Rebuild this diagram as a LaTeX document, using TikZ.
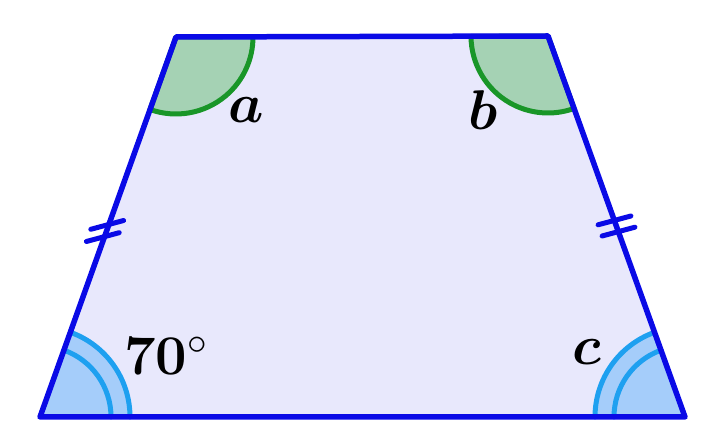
\RequirePackage{fix-cm}
\documentclass[tikz,border=0pt]{standalone}
\usepackage{amsmath}
\usepackage{color}
\definecolor{trapfill}{RGB}{232,232,252}
\definecolor{trapline}{RGB}{10,10,230}
\definecolor{greenfill}{RGB}{165,210,180}
\definecolor{greenline}{RGB}{25,150,40}
\definecolor{bluefill}{RGB}{165,205,250}
\definecolor{blueline}{RGB}{30,160,240}

\begin{document}
\begin{tikzpicture}[line cap=round,line join=round,x=1pt,y=1pt,
    lbl/.style={anchor=base,inner sep=0pt,font=\fontsize{56}{62}\selectfont},
    tick/.style={color=trapline,line width=5pt}]
    \useasboundingbox (0,0) rectangle (720,444);
    % trapezoid
    \coordinate (A) at (40,27);
    \coordinate (B) at (685,27);
    \coordinate (C) at (548,408);
    \coordinate (D) at (176,407);
    \fill[color=trapfill] (A) -- (B) -- (C) -- (D) -- cycle;
    % top angles
    \filldraw[fill=greenfill,draw=greenline,line width=5pt] (D) -- ++(250.3:77) arc (250.3:360.3:77) -- cycle;
    \filldraw[fill=greenfill,draw=greenline,line width=5pt] (C) -- ++(180.3:77) arc (180.3:289.8:77) -- cycle;
    % bottom angles
    \fill[color=bluefill] (A) -- ++(0:90) arc (0:70.3:90) -- cycle;
    \fill[color=bluefill] (B) -- ++(109.8:90) arc (109.8:180:90) -- cycle;
    \draw[color=blueline,line width=5pt] (A) ++(0:90) arc (0:70.3:90);
    \draw[color=blueline,line width=5pt] (A) ++(0:71) arc (0:70.3:71);
    \draw[color=blueline,line width=5pt] (B) ++(109.8:90) arc (109.8:180:90);
    \draw[color=blueline,line width=5pt] (B) ++(109.8:71) arc (109.8:180:71);
    % outline
    \draw[color=trapline,line width=5.5pt] (A) -- (B) -- (C) -- (D) -- cycle;
    % equal sides
    \foreach \x/\y in {107.2/219.1,102.8/206.9,614.5/223.6,618.5/212.4}
    \draw[tick] (\x,\y) ++(-16.4,-4.4) -- ++(32.8,8.8);
    % labels
    \node[lbl] (anga) at (246,321) {$\boldsymbol{a}$};
    \node[lbl] (angb) at (483,314) {$\boldsymbol{b}$};
    \node[lbl,anchor=base west] (ang70) at (124,69) {$\mathbf{70}^{\circ}$};
    \node[lbl] (angc) at (587,79) {$\boldsymbol{c}$};
\end{tikzpicture}
\end{document}
